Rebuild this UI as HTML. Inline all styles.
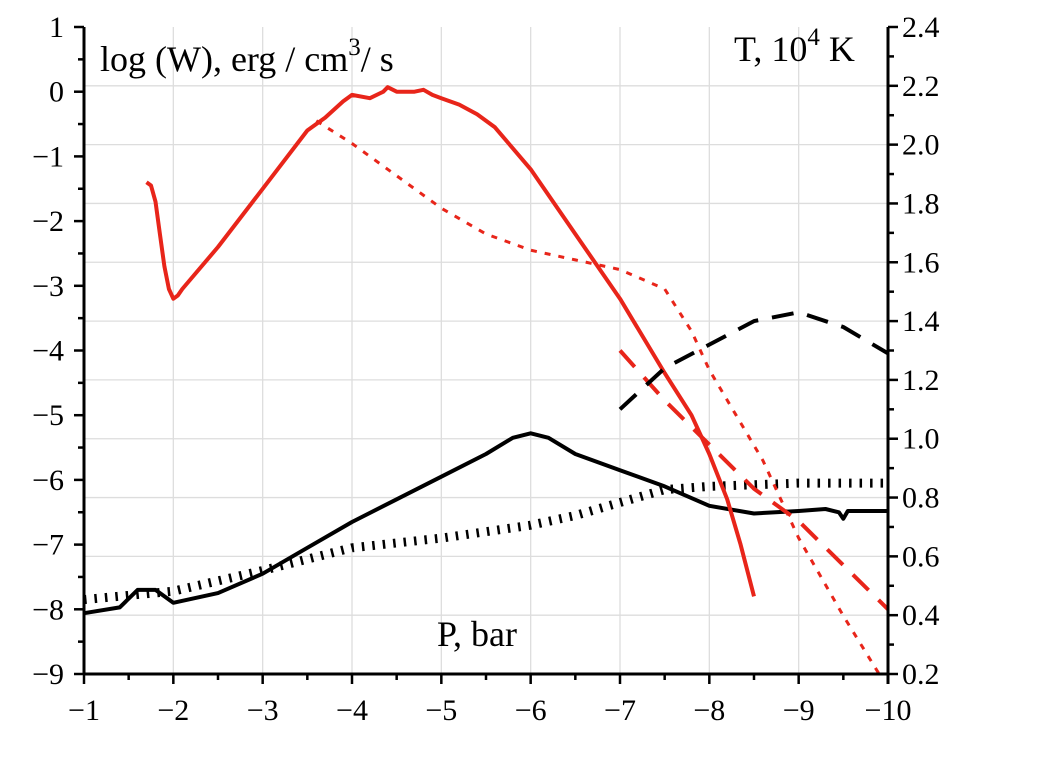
<!DOCTYPE html>
<html><head><meta charset="utf-8"><style>
body{margin:0;background:#fff}
svg{display:block;font-family:"Liberation Serif",serif}
</style></head><body>
<svg id="chart" width="1060" height="765">
<g id="grid"></g>
<g id="series"></g>
<g id="axes"></g>
<text x="100" y="71" style="font-size:36px">log (W), erg / cm<tspan dy="-16" style="font-size:25px">3</tspan><tspan dy="16">/ s</tspan></text>
<text x="734" y="61" style="font-size:36px">T, 10<tspan dy="-16" style="font-size:25px">4</tspan><tspan dy="16"> K</tspan></text>
<text x="437" y="646" style="font-size:36px">P, bar</text>
</svg>
<script>
const xTicks=[-1,-2,-3,-4,-5,-6,-7,-8,-9,-10];
const yTicks=[1,0,-1,-2,-3,-4,-5,-6,-7,-8,-9];
const tTicks=[0.2,0.4,0.6,0.8,1.0,1.2,1.4,1.6,1.8,2.0,2.2,2.4];
const redSolidP=[-1.7,-1.75,-1.8,-1.85,-1.9,-1.95,-2.0,-2.05,-2.1,-2.5,-3,-3.5,-3.7,-3.9,-4,-4.2,-4.35,-4.4,-4.5,-4.7,-4.8,-4.9,-5,-5.2,-5.4,-5.6,-6,-6.5,-7,-7.5,-7.8,-8,-8.2,-8.35,-8.5];
const redSolidW=[-1.4,-1.45,-1.7,-2.2,-2.7,-3.05,-3.2,-3.15,-3.05,-2.4,-1.5,-0.6,-0.4,-0.15,-0.05,-0.1,0.0,0.07,0.0,0.0,0.03,-0.05,-0.1,-0.2,-0.35,-0.55,-1.2,-2.2,-3.2,-4.35,-5.0,-5.6,-6.3,-7.0,-7.8];
const redDotP=[-3.6,-4,-4.5,-5,-5.5,-6,-6.5,-7,-7.5,-7.8,-8,-8.3,-8.6,-9,-9.5,-9.9];
const redDotW=[-0.45,-0.8,-1.3,-1.8,-2.2,-2.45,-2.6,-2.75,-3.05,-3.7,-4.3,-5.0,-5.7,-6.9,-8.1,-9.0];
const redDashP=[-7,-7.5,-8,-8.5,-9,-9.5,-10];
const redDashT=[1.3,1.13,0.98,0.83,0.72,0.57,0.42];
const blkDashP=[-7,-7.5,-8,-8.5,-9,-9.5,-10];
const blkDashT=[1.1,1.24,1.32,1.4,1.43,1.38,1.29];
const blkSolidP=[-1,-1.4,-1.6,-1.8,-2,-2.5,-3,-3.5,-4,-4.5,-5,-5.5,-5.8,-6,-6.2,-6.5,-7,-7.5,-8,-8.5,-9,-9.3,-9.45,-9.5,-9.55,-10];
const blkSolidW=[-8.06,-7.97,-7.7,-7.7,-7.9,-7.75,-7.45,-7.05,-6.65,-6.3,-5.95,-5.6,-5.35,-5.28,-5.35,-5.6,-5.85,-6.1,-6.4,-6.52,-6.48,-6.45,-6.5,-6.6,-6.48,-6.48];
const blkDotP=[-1,-2,-3,-4,-5,-6,-6.5,-7,-7.5,-8,-9,-10];
const blkDotW=[-7.85,-7.72,-7.4,-7.05,-6.9,-6.7,-6.55,-6.35,-6.15,-6.1,-6.05,-6.05];

const X0=84,X1=888,Y0=27,Y1=674;
const xs=p=>X0+(p-(-1))/(-9)*(X1-X0);
const yw=w=>Y1-(w+9)/10*(Y1-Y0);
const yt=t=>Y1-(t-0.2)/2.2*(Y1-Y0);
const NS="http://www.w3.org/2000/svg";
function mk(tag,attrs,parent){const e=document.createElementNS(NS,tag);for(const k in attrs)e.setAttribute(k,attrs[k]);parent.appendChild(e);return e;}
const grid=document.getElementById('grid'),axes=document.getElementById('axes'),ser=document.getElementById('series');
xTicks.forEach(p=>{if(p!==-1&&p!==-10){const l=mk('line',{x1:xs(p),x2:xs(p),y1:Y0,y2:Y1,stroke:'#ddd','stroke-width':1.3},grid);

}});
tTicks.forEach(t=>{if(t>0.25&&t<2.35){const l=mk('line',{x1:X0,x2:X1,y1:yt(t),y2:yt(t),stroke:'#ddd','stroke-width':1.3},grid);

}});
mk('line',{x1:X0,x2:X0,y1:Y0,y2:Y1,stroke:'#000','stroke-width':3},axes);
mk('line',{x1:X1,x2:X1,y1:Y0,y2:Y1+10,stroke:'#000','stroke-width':3},axes);
mk('line',{x1:X0,x2:X1,y1:Y1,y2:Y1,stroke:'#000','stroke-width':3},axes);
xTicks.forEach((p,i)=>{mk('line',{x1:xs(p),x2:xs(p),y1:Y1,y2:Y1+10,stroke:'#000','stroke-width':2.5},axes);
if(i<9)mk('line',{x1:xs(p-0.5),x2:xs(p-0.5),y1:Y1,y2:Y1+6,stroke:'#000','stroke-width':2.5},axes);
const t=mk('text',{x:xs(p),y:Y1+46,'text-anchor':'middle',style:'font-size:30px'},axes);t.textContent='\u2212'+(-p);

});
yTicks.forEach((w,i)=>{mk('line',{x1:X0-10,x2:X0,y1:yw(w),y2:yw(w),stroke:'#000','stroke-width':2.5},axes);
if(i<10)mk('line',{x1:X0-6,x2:X0,y1:yw(w-0.5),y2:yw(w-0.5),stroke:'#000','stroke-width':2.5},axes);
const t=mk('text',{x:X0-20,y:yw(w)+10,'text-anchor':'end',style:'font-size:30px'},axes);t.textContent=(w<0?'\u2212'+(-w):''+w);

});
tTicks.forEach((v,i)=>{mk('line',{x1:X1,x2:X1+10,y1:yt(v),y2:yt(v),stroke:'#000','stroke-width':2.5},axes);
if(i<11)mk('line',{x1:X1,x2:X1+6,y1:yt(v+0.1),y2:yt(v+0.1),stroke:'#000','stroke-width':2.5},axes);
const t=mk('text',{x:X1+14,y:yt(v)+10,style:'font-size:30px'},axes);t.textContent=v.toFixed(1);

});
function line(P,V,yf,style,name){const d=P.map((p,i)=>(i?'L':'M')+xs(p).toFixed(1)+','+yf(V[i]).toFixed(1)).join('');
const e=mk('path',Object.assign({d:d,fill:'none','stroke-linejoin':'round'},style),ser);

}
line(blkDotP,blkDotW,yw,{stroke:'#000','stroke-width':9,'stroke-dasharray':'2.5 8'},'black-dotted-line');
line(redDotP,redDotW,yw,{stroke:'#e8251a','stroke-width':3,'stroke-dasharray':'6 8'},'red-dotted-line');
line(blkSolidP,blkSolidW,yw,{stroke:'#000','stroke-width':4},'black-solid-line');
line(redSolidP,redSolidW,yw,{stroke:'#e8251a','stroke-width':4},'red-solid-line');
line(redDashP,redDashT,yt,{stroke:'#e8251a','stroke-width':4,'stroke-dasharray':'22 14'},'red-dashed-line');
line(blkDashP,blkDashT,yt,{stroke:'#000','stroke-width':4,'stroke-dasharray':'22 14'},'black-dashed-line');
</script>
</body></html>
